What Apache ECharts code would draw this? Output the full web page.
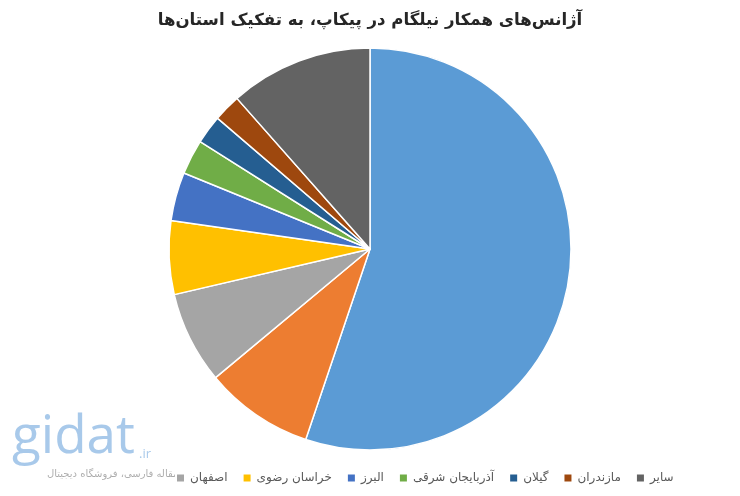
<!DOCTYPE html>
<html><head><meta charset="utf-8">
<script src="https://cdn.jsdelivr.net/npm/echarts@6/dist/echarts.min.js"></script>
<style>html,body{margin:0;padding:0;background:#fff}#c{width:740px;height:496px}</style>
</head><body><div id="c"></div>
<script>
const titleText = 'آژانس‌های همکار نیلگام در پیکاپ، به تفکیک استان‌ها';
const categories = ['تهران', 'خوزستان', 'اصفهان', 'خراسان رضوی', 'البرز', 'آذربایجان شرقی', 'گیلان', 'مازندران', 'سایر'];
const values = [55.1, 8.75, 7.4, 5.9, 3.9, 2.8, 2.3, 2.2, 11.5];
const colors = ['#5B9BD5', '#ED7D31', '#A5A5A5', '#FFC000', '#4472C4', '#70AD47', '#255E91', '#9E480E', '#636363'];
const legendItems = ['اصفهان', 'خراسان رضوی', 'البرز', 'آذربایجان شرقی', 'گیلان', 'مازندران', 'سایر'];

const chart = echarts.init(document.getElementById('c'));
const font = "'DejaVu Sans', sans-serif";
chart.setOption({
  animation: false,
  textStyle: {fontFamily: font},
  title: {
    text: titleText, left: 'center', top: 7,
    textStyle: {fontFamily: font, fontSize: 16.6, fontWeight: 'bold', color: '#262626'}
  },
  legend: {
    data: legendItems, left: 170, top: 467,
    itemWidth: 9, itemHeight: 9, itemGap: 14, icon: 'rect',
    textStyle: {fontFamily: font, fontSize: 12, color: '#595959'}
  },
  graphic: [
    {type: 'text', left: 12, top: 411, style: {text: 'gidat', font: "53px 'Open Sans'", fill: 'rgba(110,165,220,0.6)'}},
    {type: 'text', left: 139, top: 448, style: {text: '.ir', font: "13px 'Open Sans'", fill: 'rgba(110,165,220,0.6)'}},
    {type: 'text', left: 47, top: 469, style: {text: 'مقاله فارسی، فروشگاه دیجیتال', font: "10px 'DejaVu Sans'", fill: 'rgba(120,120,120,0.6)'}}
  ],
  series: [{
    type: 'pie',
    center: [370, 249],
    radius: [0, 201],
    startAngle: 90,
    clockwise: true,
    label: {show: false},
    labelLine: {show: false},
    itemStyle: {borderColor: '#fff', borderWidth: 1.5},
    emphasis: {disabled: true},
    data: categories.map((n, i) => ({name: n, value: values[i], itemStyle: {color: colors[i]}}))
  }]
});
</script></body></html>
